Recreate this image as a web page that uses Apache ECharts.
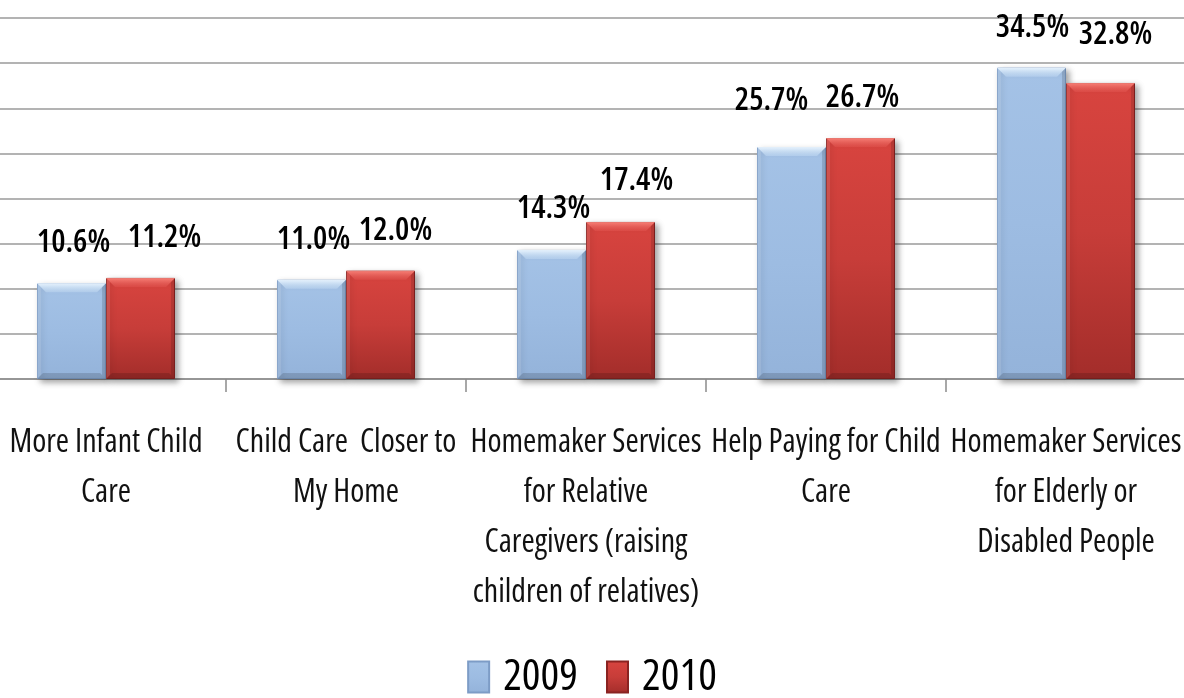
<!DOCTYPE html>
<html>
<head>
<meta charset="utf-8">
<script src="https://cdn.jsdelivr.net/npm/echarts@6/dist/echarts.min.js"></script>
<style>
  html, body { margin: 0; padding: 0; background: #fff; }
  #chart { width: 1184px; height: 698px; }
</style>
</head>
<body>
<div id="chart"></div>
<script>
// Service needs, share of respondents (%)
const categories = [
  'More Infant Child\nCare',
  'Child Care  Closer to\nMy Home',
  'Homemaker Services\nfor Relative\nCaregivers (raising\nchildren of relatives)',
  'Help Paying for Child\nCare',
  'Homemaker Services\nfor Elderly or\nDisabled People'
];
const seriesNames = ['2009', '2010'];
const values2009 = [10.6, 11.0, 14.3, 25.7, 34.5];
const values2010 = [11.2, 12.0, 17.4, 26.7, 32.8];

// ---- layout & styling ----
// Open Sans is variable in width; the "condensed" keyword lands in the
// canvas font shorthand and selects its narrow instance.
const FONT = "'Open Sans', 'Liberation Sans', sans-serif";
const STRETCH = 'condensed';
const BAR_W = 69;
const BEVEL = 9;

// hand-placed nudges of the value labels so neighbours do not collide
const labelNudge = [
  [[2, 0], [2, 0], [2, -1], [-20, -6], [1, 0]],
  [[24, 0], [15, 0], [16, -1], [2, 0], [15, -8]]
];

const blueFill = new echarts.graphic.LinearGradient(0, 0, 0, 1, [
  { offset: 0, color: '#a4c2e6' },
  { offset: 0.5, color: '#9dbce2' },
  { offset: 1, color: '#94b3da' }
]);
const redFill = new echarts.graphic.LinearGradient(0, 0, 0, 1, [
  { offset: 0, color: '#d8443f' },
  { offset: 0.5, color: '#c73d39' },
  { offset: 1, color: '#a32d2a' }
]);

const valueLabel = {
  show: true,
  position: 'top',
  distance: 24,
  formatter: p => p.value.toFixed(1) + '%',
  fontFamily: FONT,
  fontStyle: STRETCH,
  fontWeight: 600,
  fontSize: 32,
  color: '#000'
};

function barData(values, s) {
  return values.map((v, i) => ({ value: v, label: { offset: labelNudge[s][i] } }));
}

// Bevelled facets laid over each bar, positioned with the same axes.
function bevelSeries(values, s) {
  return {
    type: 'custom',
    name: 'bevel-' + seriesNames[s],
    silent: true,
    z: 3,
    data: values.map((v, i) => [i, v]),
    encode: { x: 0, y: 1 },
    renderItem(params, api) {
      const i = api.value(0);
      const base = api.coord([i, 0]);
      const top = api.coord([i, api.value(1)]);
      const x0 = base[0] + (s === 0 ? -BAR_W : 0);
      const x1 = x0 + BAR_W;
      const y0 = top[1];
      const y1 = base[1];
      const b = BEVEL;
      const topColor = s === 0
        ? new echarts.graphic.LinearGradient(0, 0, 0, 1, [
            { offset: 0, color: 'rgba(235,246,255,0.95)' },
            { offset: 1, color: 'rgba(205,228,250,0.35)' }])
        : new echarts.graphic.LinearGradient(0, 0, 0, 1, [
            { offset: 0, color: 'rgba(255,140,130,0.85)' },
            { offset: 1, color: 'rgba(240,100,95,0.25)' }]);
      return {
        type: 'group',
        children: [
          { type: 'polygon', shape: { points: [[x0, y0], [x1, y0], [x1 - b, y0 + b], [x0 + b, y0 + b]] },
            style: { fill: topColor } },
          { type: 'polygon', shape: { points: [[x0, y0], [x0 + 4, y0 + 4], [x0 + 4, y1 - 4], [x0, y1]] },
            style: { fill: 'rgba(255,255,255,0.10)' } },
          { type: 'polygon', shape: { points: [[x1, y0], [x1 - 4, y0 + 4], [x1 - 4, y1 - 4], [x1, y1]] },
            style: { fill: 'rgba(0,0,0,0.12)' } },
          { type: 'polygon', shape: { points: [[x0, y1], [x0 + 6, y1 - 6], [x1 - 6, y1 - 6], [x1, y1]] },
            style: { fill: 'rgba(0,0,0,0.14)' } }
        ]
      };
    }
  };
}

const barItemStyle = (fill, border) => ({
  color: fill,
  borderColor: border,
  borderWidth: 1,
  shadowColor: 'rgba(0,0,0,0.35)',
  shadowBlur: 6,
  shadowOffsetX: 3,
  shadowOffsetY: 3
});

const chart = echarts.init(document.getElementById('chart'), null, { renderer: 'canvas' });
chart.setOption({
  backgroundColor: '#fff',
  animation: false,
  legend: {
    data: seriesNames,
    left: 'center',
    top: 650,
    icon: 'rect',
    itemWidth: 21,
    itemHeight: 31,
    itemGap: 28,
    textStyle: {
      fontFamily: FONT,
      fontStyle: STRETCH,
      fontSize: 44,
      color: '#000',
      padding: [0, 0, 0, 9]
    }
  },
  grid: {
    left: -14,
    width: 1200,
    top: 18,
    height: 361,
    containLabel: false,
    outerBoundsMode: 'none'
  },
  xAxis: {
    type: 'category',
    data: categories,
    axisLine: { lineStyle: { color: '#8c8c8c', width: 1.5 } },
    axisTick: { show: true, length: 13, lineStyle: { color: '#8c8c8c', width: 1.5 } },
    axisLabel: {
      interval: 0,
      margin: 39,
      fontFamily: FONT,
      fontStyle: STRETCH,
      fontSize: 32,
      lineHeight: 50,
      color: '#111'
    }
  },
  yAxis: {
    type: 'value',
    min: 0,
    max: 40,
    interval: 5,
    axisLine: { show: false },
    axisTick: { show: false },
    axisLabel: { show: false },
    splitLine: { lineStyle: { color: '#9a9a9a', width: 1.7 } }
  },
  series: [
    {
      name: seriesNames[0],
      type: 'bar',
      data: barData(values2009, 0),
      barWidth: BAR_W,
      barGap: '0%',
      itemStyle: barItemStyle(blueFill, '#7d9cc6'),
      label: valueLabel
    },
    {
      name: seriesNames[1],
      type: 'bar',
      data: barData(values2010, 1),
      barWidth: BAR_W,
      barGap: '0%',
      itemStyle: barItemStyle(redFill, '#8a2321'),
      label: valueLabel
    },
    bevelSeries(values2009, 0),
    bevelSeries(values2010, 1)
  ]
});
</script>
</body>
</html>
